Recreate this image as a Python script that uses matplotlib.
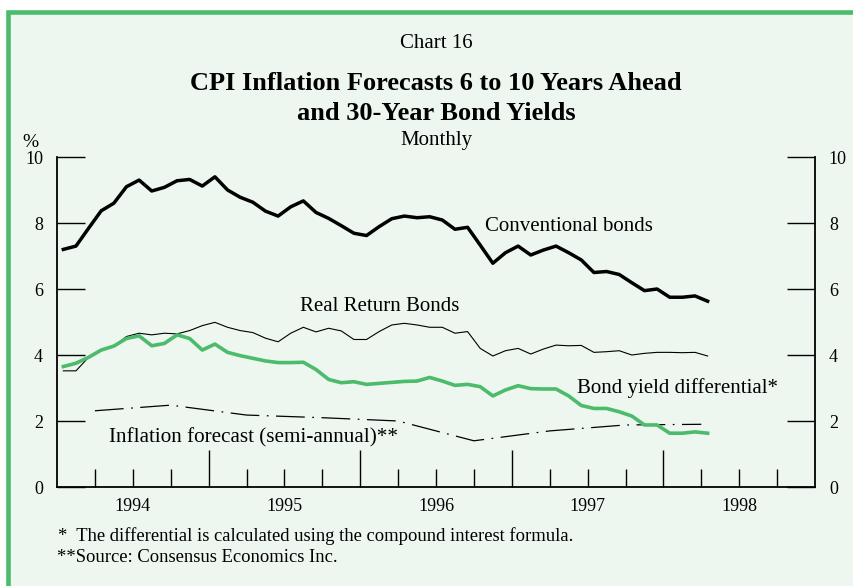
import numpy as np
import matplotlib
matplotlib.use("Agg")
import matplotlib.pyplot as plt
from matplotlib.patches import Rectangle

plt.rcParams['font.family'] = ['Liberation Serif', 'DejaVu Serif']

# Monthly data, January 1994 to April 1998
conventional = [7.20, 7.30, 7.84, 8.37, 8.60, 9.10, 9.30, 8.97, 9.08, 9.28,
                9.32, 9.12, 9.40, 9.00, 8.78, 8.63, 8.36, 8.21, 8.49, 8.67,
                8.32, 8.14, 7.92, 7.69, 7.62, 7.89, 8.13, 8.21, 8.16, 8.19,
                8.09, 7.81, 7.87, 7.33, 6.78, 7.10, 7.30, 7.03, 7.18, 7.30,
                7.10, 6.88, 6.50, 6.53, 6.44, 6.19, 5.95, 6.00, 5.75, 5.75,
                5.79, 5.63]
real_return = [3.52, 3.52, 3.93, 4.13, 4.27, 4.56, 4.66, 4.61, 4.66, 4.64,
               4.74, 4.89, 4.99, 4.84, 4.74, 4.68, 4.51, 4.40, 4.66, 4.84,
               4.70, 4.81, 4.73, 4.47, 4.47, 4.71, 4.91, 4.96, 4.91, 4.84,
               4.84, 4.66, 4.71, 4.20, 3.97, 4.13, 4.20, 4.03, 4.18, 4.30,
               4.28, 4.29, 4.08, 4.10, 4.13, 4.00, 4.05, 4.08, 4.08, 4.07,
               4.08, 3.97]
differential = [3.65, 3.75, 3.93, 4.15, 4.27, 4.50, 4.58, 4.28, 4.35, 4.61,
                4.50, 4.15, 4.33, 4.08, 3.98, 3.90, 3.82, 3.77, 3.77, 3.78,
                3.56, 3.26, 3.16, 3.19, 3.11, 3.14, 3.17, 3.20, 3.21, 3.32,
                3.21, 3.08, 3.11, 3.04, 2.76, 2.94, 3.07, 2.98, 2.97, 2.97,
                2.76, 2.47, 2.38, 2.38, 2.28, 2.15, 1.88, 1.88, 1.63, 1.63,
                1.67, 1.63]

# Semi-annual inflation forecast (April / October surveys)
forecast_dates = [1994.25, 1994.75, 1995.25, 1995.75, 1996.25,
                  1996.75, 1997.25, 1997.75, 1998.25]
forecast = [2.31, 2.48, 2.18, 2.10, 2.00, 1.40, 1.70, 1.88, 1.90]

years = [1994, 1995, 1996, 1997, 1998]

months = 1994 + (np.arange(len(conventional)) + 0.5) / 12

green = '#4cbb6c'
bg = '#edf7f0'

fig = plt.figure(figsize=(8.54, 5.86), dpi=100, facecolor='white')

# green frame (top and left edges visible)
frame = Rectangle((8 / 854, 1 - 12 / 586), 2, -2, transform=fig.transFigure,
                  facecolor=bg, edgecolor=green, linewidth=3.3, zorder=-10)
fig.patches.append(frame)

ax = fig.add_axes([57 / 854, 1 - 487 / 586, (815 - 57) / 854, (487 - 157) / 586])
ax.set_facecolor('none')

ax.plot(months, real_return, color='black', lw=0.8)
ax.plot(forecast_dates, forecast, color='black', lw=0.9,
        linestyle=(0, (23, 6, 1.4, 6)))
ax.plot(months, differential, color=green, lw=2.6)
ax.plot(months, conventional, color='black', lw=2.5)

ax.set_xlim(1994, 1999)
ax.set_ylim(0, 10)

ax.spines['top'].set_visible(False)
for s in ['left', 'right', 'bottom']:
    ax.spines[s].set_linewidth(1.3)

ax.set_yticks(range(0, 11, 2))
ax.tick_params(axis='y', which='both', direction='in', length=20, width=1.0,
               left=True, right=True, labelleft=True, labelright=True,
               labelsize=13, pad=10)

# year boundaries: tall ticks, quarters: short ticks, labels mid-year
ax.set_xticks([1995, 1996, 1997, 1998], ['', '', '', ''])
quarters = [y + q / 4 for y in years for q in range(1, 4)]
qlabels = [str(int(q)) if abs(q % 1 - 0.5) < 1e-6 else '' for q in quarters]
ax.set_xticks(quarters, qlabels, minor=True)
ax.tick_params(axis='x', which='major', direction='in', length=26.5, width=1.0)
ax.tick_params(axis='x', which='minor', direction='in', length=13, width=1.0,
               labelsize=13, pad=8)

# series labels
ax.text(1996.82, 7.88, 'Conventional bonds', fontsize=15, va='center')
ax.text(1995.60, 5.48, 'Real Return Bonds', fontsize=15, va='center')
ax.text(1997.43, 3.00, 'Bond yield differential*', fontsize=15, va='center')
ax.text(1994.34, 1.48, 'Inflation forecast (semi-annual)**', fontsize=15.2,
        va='center')

# titles
fig.text(0.5105, 1 - 44 / 586, 'Chart 16', ha='center', va='center', fontsize=15)
fig.text(0.5105, 1 - 83 / 586, 'CPI Inflation Forecasts 6 to 10 Years Ahead',
         ha='center', va='center', fontsize=19, fontweight='bold')
fig.text(0.5105, 1 - 113 / 586, 'and 30-Year Bond Yields',
         ha='center', va='center', fontsize=19, fontweight='bold')
fig.text(0.5105, 1 - 141 / 586, 'Monthly', ha='center', va='center', fontsize=15)
fig.text(30 / 854, 1 - 142 / 586, '%', ha='center', va='center', fontsize=14)

# footnotes
fig.text(58 / 854, 1 - 536 / 586,
         '*  The differential is calculated using the compound interest formula.',
         va='center', fontsize=13.4)
fig.text(57 / 854, 1 - 557 / 586, '**Source: Consensus Economics Inc.',
         va='center', fontsize=13.4)

fig.savefig('out.png', dpi=100, facecolor=fig.get_facecolor())
